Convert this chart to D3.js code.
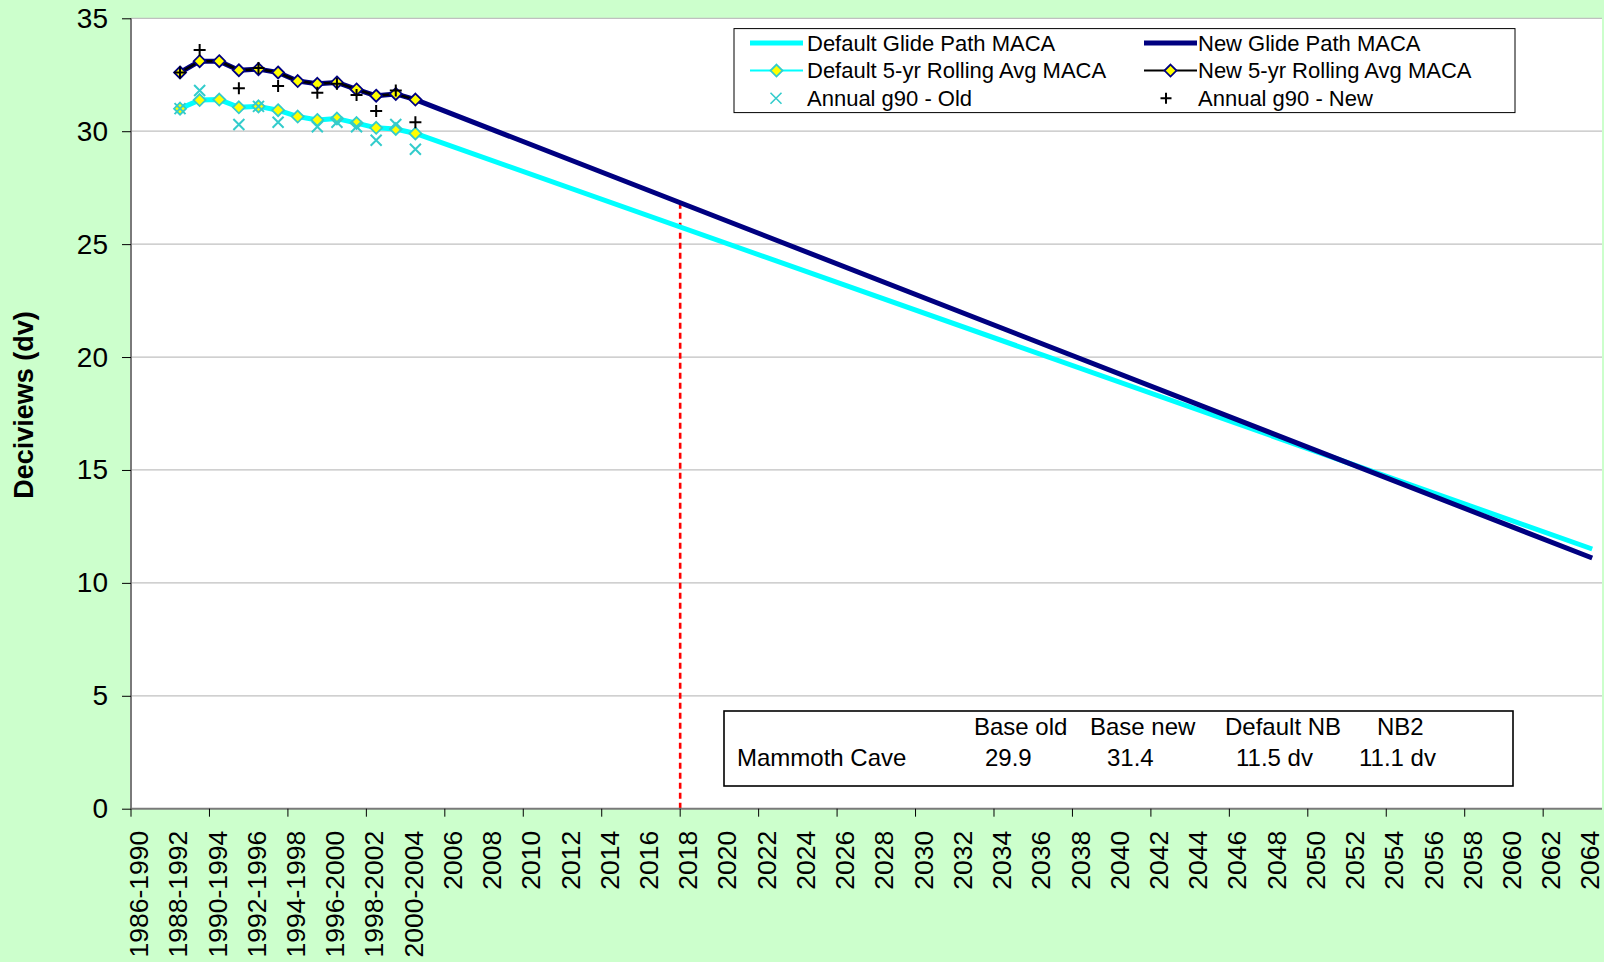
<!DOCTYPE html>
<html>
<head>
<meta charset="utf-8">
<script src="https://cdn.jsdelivr.net/npm/d3@7"></script>
<style>
  body { margin: 0; background: #ccffcc; }
  svg { display: block; font-family: "Liberation Sans", Arial, sans-serif; }
</style>
</head>
<body>
<svg id="chart" width="1604" height="962"></svg>
<script>
// categories: one per year, 1990 .. 2064
const years = d3.range(1990, 2065);
const xTickLabels = [
  '1986-1990', '1988-1992', '1990-1994', '1992-1996', '1994-1998', '1996-2000', '1998-2002', '2000-2004',
  '2006', '2008', '2010', '2012', '2014', '2016', '2018', '2020', '2022', '2024', '2026', '2028', '2030',
  '2032', '2034', '2036', '2038', '2040', '2042', '2044', '2046', '2048', '2050', '2052', '2054', '2056',
  '2058', '2060', '2062', '2064'
];
const yTicks = [0, 5, 10, 15, 20, 25, 30, 35];

// 5-yr rolling averages (end year of window)
const rollYears = [1992, 1993, 1994, 1995, 1996, 1997, 1998, 1999, 2000, 2001, 2002, 2003, 2004];
const defaultRolling = [31.0, 31.38, 31.4, 31.06, 31.1, 30.93, 30.65, 30.5, 30.56, 30.36, 30.15, 30.1, 29.9];
const newRolling = [32.6, 33.1, 33.1, 32.7, 32.75, 32.6, 32.22, 32.1, 32.16, 31.85, 31.57, 31.65, 31.4];

// annual g90 values
const annualYears = [1992, 1993, 1995, 1996, 1997, 1999, 2000, 2001, 2002, 2003, 2004];
const annualOld = [31.0, 31.8, 30.3, 31.1, 30.4, 30.2, 30.4, 30.2, 29.6, 30.3, 29.2];
const annualNew = [32.6, 33.6, 31.9, 32.8, 32.0, 31.7, 32.1, 31.6, 30.9, 31.8, 30.4];

// glide path end points (natural background, 2064)
const endYear = 2064;
const defaultNB = 11.5;
const newNB = 11.1;
const milestoneYear = 2018;

const legendLabels = [
  'Default Glide Path MACA', 'New Glide Path MACA',
  'Default 5-yr Rolling Avg MACA', 'New 5-yr Rolling Avg MACA',
  'Annual g90 - Old', 'Annual g90 - New'
];
const tableHeader = ['Base old', 'Base new', 'Default NB', 'NB2'];
const tableRow = ['Mammoth Cave', '29.9', '31.4', '11.5 dv', '11.1 dv'];

const cyan = '#00ffff';
const navy = '#000080';
const teal = '#33cccc';
const yellow = '#ffff00';

const plotLeft = 131, plotRight = 1602, plotTop = 18.3, plotBottom = 808.7;
const svg = d3.select('#chart');

const x = d3.scaleBand().domain(years).range([plotLeft, plotRight]).padding(0);
const cx = (yr) => x(yr) + x.bandwidth() / 2;
const y = d3.scaleLinear().domain([0, 35]).range([plotBottom, plotTop]);

// plot area
svg.append('rect')
  .attr('x', plotLeft).attr('y', plotTop)
  .attr('width', plotRight - plotLeft).attr('height', plotBottom - plotTop)
  .attr('fill', '#fff');

// gridlines
svg.append('g')
  .selectAll('line')
  .data(yTicks.filter((d) => d > 0))
  .enter()
  .append('line')
  .attr('x1', plotLeft).attr('x2', plotRight)
  .attr('y1', (d) => y(d)).attr('y2', (d) => y(d))
  .attr('stroke', '#c0c0c0')
  .attr('stroke-width', 1.3);

// series built from the data arrays
const defaultPts = rollYears.map((yr, i) => ({ yr, v: defaultRolling[i] }));
const newPts = rollYears.map((yr, i) => ({ yr, v: newRolling[i] }));
const defaultGlide = defaultPts.concat([{ yr: endYear, v: defaultNB }]);
const newGlide = newPts.concat([{ yr: endYear, v: newNB }]);

// red dashed milestone line, from the new glide path down to the axis
const last = newPts[newPts.length - 1];
const glideAt = d3.scaleLinear().domain([cx(last.yr), cx(endYear)]).range([last.v, newNB]);
const mx = x(milestoneYear);
svg.append('line')
  .attr('x1', mx).attr('x2', mx)
  .attr('y1', y(glideAt(mx))).attr('y2', plotBottom)
  .attr('stroke', '#ff0000')
  .attr('stroke-width', 2.6)
  .attr('stroke-dasharray', '6,4');

const line = d3.line().x((d) => cx(d.yr)).y((d) => y(d.v));

svg.append('path').datum(defaultGlide)
  .attr('d', line).attr('fill', 'none')
  .attr('stroke', cyan).attr('stroke-width', 5).attr('stroke-linejoin', 'round');
svg.append('path').datum(newGlide)
  .attr('d', line).attr('fill', 'none')
  .attr('stroke', navy).attr('stroke-width', 5).attr('stroke-linejoin', 'round');

svg.append('path').datum(defaultPts)
  .attr('d', line).attr('fill', 'none')
  .attr('stroke', cyan).attr('stroke-width', 2);
svg.append('path').datum(newPts)
  .attr('d', line).attr('fill', 'none')
  .attr('stroke', '#000').attr('stroke-width', 2.5);

const diamond = (s) => `M0,${-s}L${s},0L0,${s}L${-s},0Z`;
const cross = (s) => `M${-s},${-s}L${s},${s}M${-s},${s}L${s},${-s}`;
const plus = (s) => `M${-s},0H${s}M0,${-s}V${s}`;

function diamonds(pts, stroke) {
  svg.append('g')
    .selectAll('path')
    .data(pts)
    .enter()
    .append('path')
    .attr('d', diamond(6))
    .attr('transform', (d) => `translate(${cx(d.yr)},${y(d.v)})`)
    .attr('fill', yellow)
    .attr('stroke', stroke)
    .attr('stroke-width', 1.8);
}
diamonds(defaultPts, teal);
diamonds(newPts, navy);

// annual markers
svg.append('g')
  .selectAll('path')
  .data(annualYears.map((yr, i) => ({ yr, v: annualOld[i] })))
  .enter()
  .append('path')
  .attr('d', cross(5.5))
  .attr('transform', (d) => `translate(${cx(d.yr)},${y(d.v)})`)
  .attr('stroke', teal)
  .attr('stroke-width', 2);
svg.append('g')
  .selectAll('path')
  .data(annualYears.map((yr, i) => ({ yr, v: annualNew[i] })))
  .enter()
  .append('path')
  .attr('d', plus(6))
  .attr('transform', (d) => `translate(${cx(d.yr)},${y(d.v)})`)
  .attr('stroke', '#000')
  .attr('stroke-width', 2);

// y axis
const yAxis = svg.append('g')
  .attr('transform', `translate(${plotLeft},0)`)
  .call(d3.axisLeft(y).tickValues(yTicks).tickSize(9).tickPadding(14));
yAxis.select('.domain').attr('stroke', '#7a7a7a').attr('stroke-width', 2).attr('d', `M0,${plotTop}V${plotBottom}`);
yAxis.selectAll('.tick line').attr('stroke', '#000');
yAxis.selectAll('.tick text').attr('font-size', 28).attr('fill', '#000').attr('font-family', 'Liberation Sans, Arial, sans-serif');

// x axis: labels on every other year, ticks on every fourth band edge
const labelledYears = years.filter((d, i) => i % 2 === 0);
const xAxis = svg.append('g')
  .attr('transform', `translate(0,${plotBottom})`)
  .call(d3.axisBottom(x).tickValues(labelledYears).tickSize(0)
    .tickFormat((d, i) => xTickLabels[i]));
xAxis.select('.domain').attr('stroke', '#7a7a7a').attr('stroke-width', 2).attr('d', `M${plotLeft},0H${plotRight}`);
xAxis.selectAll('.tick text')
  .attr('font-size', 26.5)
  .attr('font-family', 'Liberation Sans, Arial, sans-serif')
  .attr('fill', '#000')
  .attr('text-anchor', 'end')
  .attr('transform', 'rotate(-90)')
  .attr('x', -22)
  .attr('y', -2)
  .attr('dy', '0.35em');
svg.append('g')
  .selectAll('line')
  .data(years.filter((d, i) => i % 4 === 0))
  .enter()
  .append('line')
  .attr('x1', (d) => x(d)).attr('x2', (d) => x(d))
  .attr('y1', plotBottom).attr('y2', plotBottom + 8)
  .attr('stroke', '#000');

// y label
svg.append('text')
  .attr('transform', 'translate(33,405) rotate(-90)')
  .attr('text-anchor', 'middle')
  .attr('font-size', 27)
  .attr('font-weight', 'bold')
  .text('Deciviews (dv)');

// legend
const legend = svg.append('g');
legend.append('rect')
  .attr('x', 734).attr('y', 28.6).attr('width', 781).attr('height', 84)
  .attr('fill', '#fff').attr('stroke', '#000').attr('stroke-width', 1);
const colX = [750, 1144];
const textOff = [57, 54];
const rowY = [43, 70.6, 98.2];
legendLabels.forEach((label, i) => {
  const sx = colX[i % 2];
  const sy = rowY[Math.floor(i / 2)];
  const g = legend.append('g').attr('transform', `translate(${sx},${sy})`);
  if (i < 2) {
    g.append('line').attr('x1', 0).attr('x2', 53)
      .attr('stroke', i === 0 ? cyan : navy).attr('stroke-width', 5);
  } else if (i < 4) {
    g.append('line').attr('x1', 0).attr('x2', 53)
      .attr('stroke', i === 2 ? cyan : '#000').attr('stroke-width', 2);
    g.append('path').attr('d', diamond(6)).attr('transform', 'translate(26.5,0)')
      .attr('fill', yellow).attr('stroke', i === 2 ? teal : navy).attr('stroke-width', 1.8);
  } else if (i === 4) {
    g.append('path').attr('d', cross(5.5)).attr('transform', 'translate(26,0)')
      .attr('stroke', teal).attr('stroke-width', 1.6);
  } else {
    g.append('path').attr('d', plus(5.5)).attr('transform', 'translate(22,0)')
      .attr('stroke', '#000').attr('stroke-width', 2);
  }
  g.append('text')
    .attr('x', textOff[i % 2])
    .attr('dy', '0.35em')
    .attr('font-size', 22)
    .text(label);
});

// info table
const table = svg.append('g');
table.append('rect')
  .attr('x', 724).attr('y', 711).attr('width', 789).attr('height', 75)
  .attr('fill', '#fff').attr('stroke', '#000').attr('stroke-width', 1.6);
const headX = [974, 1090, 1225, 1377];
tableHeader.forEach((t, i) => {
  table.append('text').attr('x', headX[i]).attr('y', 727).attr('dy', '0.35em')
    .attr('font-size', 24).text(t);
});
const rowX = [737, 985, 1107, 1236, 1359];
tableRow.forEach((t, i) => {
  table.append('text').attr('x', rowX[i]).attr('y', 758).attr('dy', '0.35em')
    .attr('font-size', 24).text(t);
});
</script>
</body>
</html>
